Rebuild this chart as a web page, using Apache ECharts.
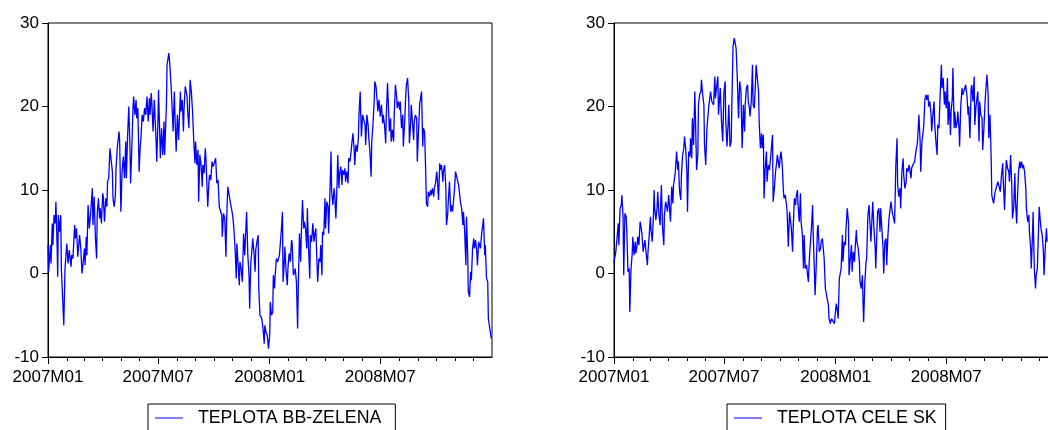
<!DOCTYPE html>
<html>
<head>
<meta charset="utf-8">
<script src="https://cdn.jsdelivr.net/npm/echarts@6/dist/echarts.min.js"></script>
<style>
html,body{margin:0;padding:0;background:#fff;overflow:hidden}
#chart{width:1048px;height:430px}
</style>
</head>
<body>
<div id="chart"></div>
<script>
// x positions are day indexes counted from 2007-01-01 (day 0) to 2009-01-01 (day 731)
const monthStartDays = [0,31,59,90,120,151,181,212,243,273,304,334,365,396,425,456,486,517,547,578,609,639,670,700];
const majorTickDays = [0,181,365,547];
const majorTickLabels = ['2007M01','2007M07','2008M01','2008M07'];
const yTickValues = [-10,0,10,20,30];

// TEPLOTA BB-ZELENA (left panel)
const bbDays = [
0,1,4,5,7,8,10,12,13,15,16,17,19,21,22,26,28,31,33,35,38,39,41,44,45,47,49,50,52,54,56,58,60,61,63,64,66,68,70,73,74,76,78,80,81,83,85,86,88,90,91,93,95,97,98,100,102,104,106,107,109,111,112,114,117,118,120,122,124,126,128,129,131,133,135,136,138,140,141,143,145,146,148,150,152,153,155,157,159,161,163,165,167,168,170,171,173,
175,178,179,181,182,185,187,189,191,192,195,196,199,201,203,206,208,209,211,213,215,218,219,221,223,224,226,229,230,232,234,236,238,240,242,243,245,247,248,250,252,254,255,257,259,260,263,265,266,268,270,272,274,276,278,280,282,284,286,287,289,291,293,294,296,298,300,302,304,306,308,310,311,313,315,316,318,320,322,324,326,327,329,331,332,334,336,337,339,341,342,344,346,347,349,
352,354,356,357,359,361,363,365,366,368,370,371,373,374,376,378,379,381,383,384,386,387,389,390,392,394,395,397,399,401,402,404,406,407,409,411,412,414,416,417,419,421,422,424,426,427,429,431,432,434,436,438,439,441,443,444,446,448,449,451,452,454,456,457,459,461,462,464,466,467,469,471,472,474,476,477,479,480,482,484,485,487,489,490,492,494,495,497,499,500,502,504,505,507,509,511,512,514,515,516,518,520,522,523,525,527,528,530,532,533,535,537,538,540,542,543,545,
547,549,551,552,554,556,557,559,561,562,564,565,567,569,570,572,574,575,577,579,580,582,584,585,587,589,590,592,594,595,597,598,600,602,603,605,607,608,610,612,613,615,617,618,620,622,623,625,626,628,630,631,633,635,636,638,640,641,643,645,646,648,650,651,653,655,656,658,659,661,663,664,666,668,669,671,673,674,676,678,679,681,683,684,686,688,689,691,692,694,696,697,699,701,702,704,706,707,709,711,712,714,716,717,719,720,722,724,725,727,729,730
];
const bbTemp = [
3.4,0.2,3.4,1.2,6.0,3.4,7.0,6.0,8.6,3.4,-0.4,7.0,5.0,7.0,0.6,-6.2,0.6,3.6,1.2,2.8,0.8,2.2,1.8,5.8,4.2,5.4,2.0,2.2,4.6,3.0,0.0,1.4,3.0,1.0,4.4,2.2,8.2,5.4,7.0,10.2,5.8,9.2,4.4,1.8,7.0,9.0,6.6,7.8,6.0,9.6,9.2,6.2,9.0,8.0,11.0,11.4,15.0,15.2,12.2,9.0,8.0,9.4,12.6,15.0,17.0,15.8,7.4,12.2,14.0,11.4,15.8,11.4,16.4,20.0,15.0,10.8,15.0,20.0,21.2,19.0,20.8,18.6,19.8,12.2,15.4,16.2,19.0,18.2,19.8,19.0,21.2,18.2,21.0,19.0,21.6,20.4,17.0,
20.8,15.8,13.4,18.2,22.0,13.8,17.4,14.2,18.2,14.2,20.2,25.0,26.4,24.6,22.0,17.0,21.8,19.0,14.6,19.0,16.0,21.8,19.4,20.8,17.0,19.8,22.4,21.2,19.4,17.4,23.2,21.8,19.4,15.8,13.2,15.8,13.0,14.8,8.6,14.2,13.0,10.4,13.0,12.0,15.0,13.8,8.0,11.0,11.8,11.2,13.4,12.8,13.0,13.8,10.8,11.2,8.0,7.8,7.0,4.4,7.2,6.6,2.0,6.2,10.4,10.2,8.6,8.8,7.0,5.4,3.0,-0.6,3.6,3.4,-1.4,1.4,0.6,-1.0,4.8,2.2,5.8,7.4,2.2,-0.2,-4.2,1.4,3.0,4.2,2.6,0.2,2.8,3.8,4.6,-1.8,-5.0,
-5.4,-6.6,-8.4,-6.2,-7.0,-7.4,-9.0,-7.4,-3.4,-5.0,-4.6,-0.2,-1.8,-0.2,1.8,1.4,1.2,2.2,2.0,5.0,7.4,-1.0,1.4,3.2,0.2,-1.4,0.6,2.4,1.4,4.0,3.6,-0.2,0.2,0.6,-1.0,-6.6,-1.8,4.8,1.4,4.6,8.8,5.4,6.2,5.4,3.0,7.8,3.0,-0.6,4.6,3.8,6.0,3.8,4.6,5.4,1.0,-1.0,1.8,1.4,3.4,-0.2,5.0,4.6,9.0,5.4,8.6,8.0,4.8,9.4,14.6,9.8,8.2,10.2,9.4,6.6,11.0,14.2,10.2,11.8,12.8,10.6,12.4,11.8,12.6,11.0,12.2,10.8,13.8,13.4,14.6,15.4,16.8,15.0,13.0,15.4,14.6,16.2,19.0,21.8,19.0,16.4,19.0,19.2,17.8,15.4,19.0,17.8,16.4,14.6,11.6,15.8,17.8,20.6,23.0,22.4,20.6,19.4,20.8,
18.8,20.2,18.0,19.0,17.8,15.6,19.0,22.8,19.0,17.0,18.6,15.8,17.2,15.8,19.0,22.6,21.2,19.8,20.6,19.6,20.6,17.4,19.0,15.2,17.8,21.4,22.6,23.4,20.6,15.6,17.8,20.2,18.2,16.0,18.2,19.0,18.6,13.4,17.0,20.4,20.8,21.8,15.2,17.4,17.0,11.8,8.4,8.0,9.8,9.2,10.0,9.4,10.2,9.2,10.2,10.8,12.2,11.4,8.8,13.2,12.4,13.0,11.0,12.2,13.0,10.2,5.8,7.0,8.6,11.0,7.4,8.2,7.4,9.0,9.8,12.2,12.4,12.2,10.6,10.4,8.6,7.8,5.8,7.4,5.0,1.0,6.8,2.2,-2.2,-2.8,0.2,-0.8,3.0,4.2,3.0,4.0,2.6,1.0,3.8,4.0,3.0,4.8,5.0,6.6,2.2,3.4,-0.6,-1.0,-5.4,-5.6,-7.4,-7.8
];

// TEPLOTA CELE SK (right panel)
const skDays = [
0,2,3,5,7,8,10,12,13,15,16,18,20,21,23,25,26,28,30,31,33,35,36,38,39,41,43,44,46,48,49,51,53,55,56,58,60,61,63,65,66,67,69,71,72,74,76,77,78,80,82,83,85,87,88,90,92,93,95,97,98,100,101,103,105,106,108,110,111,113,115,116,118,120,121,123,125,126,128,129,131,133,134,136,138,139,141,143,144,146,148,149,151,153,154,156,157,159,161,162,164,166,167,169,171,172,
175,177,179,181,183,184,186,188,189,191,193,194,196,198,199,201,203,205,207,209,211,213,215,216,218,220,221,223,224,226,228,229,231,233,234,236,238,239,241,243,244,246,247,249,251,252,254,256,257,259,261,262,264,266,267,269,271,272,274,275,277,279,280,282,284,285,287,289,290,292,294,295,297,299,300,302,303,305,307,308,310,312,313,315,317,318,320,322,323,325,327,328,330,331,333,335,336,338,340,341,343,345,346,348,350,351,353,
354,356,358,359,361,363,364,366,368,369,371,372,374,376,377,379,381,382,384,386,387,389,391,392,394,396,397,399,400,402,404,405,407,409,410,411,413,415,416,418,420,421,423,425,426,428,430,431,433,434,436,438,439,441,443,444,446,448,449,451,453,454,456,458,459,461,462,464,466,467,469,471,472,474,476,477,479,481,482,484,486,487,489,490,492,494,495,497,499,500,502,504,505,507,509,510,512,514,515,517,518,520,522,523,525,527,528,530,532,533,535,
537,539,540,542,544,545,547,549,550,552,554,555,557,558,560,561,563,565,566,568,569,571,573,574,576,578,579,581,583,584,586,588,589,591,593,594,596,597,599,601,602,604,606,607,609,611,612,614,616,617,619,621,622,623,625,627,628,630,632,633,635,636,638,640,641,643,645,646,648,650,651,653,655,656,658,660,661,663,664,666,668,669,671,673,674,676,678,679,681,683,684,686,687,689,690,692,694,695,697,699,700,702,703,705,707,708,710,712,713
];
const skTemp = [
1.4,1.2,2.6,2.4,6.0,3.4,7.8,8.2,9.4,6.6,-0.2,7.2,6.8,5.4,0.2,0.6,-4.6,0.6,2.4,4.4,2.2,3.8,2.4,3.4,4.4,3.4,6.2,5.8,4.8,2.6,2.8,4.0,2.4,1.0,2.6,4.6,6.8,5.2,3.8,7.0,10.0,7.8,6.4,8.0,9.8,7.0,5.8,8.6,10.6,5.4,3.4,7.0,8.6,7.8,7.4,9.4,9.2,6.2,10.4,8.4,10.6,11.6,12.2,14.6,12.4,13.4,9.8,8.8,11.8,14.2,15.0,16.4,15.0,12.2,7.4,14.6,14.0,16.2,13.8,18.6,15.4,21.8,19.0,12.4,14.2,20.2,21.4,21.8,23.2,21.4,20.2,15.4,13.0,17.4,17.4,20.0,20.2,21.8,20.6,20.4,20.2,23.6,21.0,22.4,23.6,19.0,
22.2,18.2,15.8,21.8,23.0,18.2,15.2,18.2,20.2,15.2,15.8,20.2,27.2,28.2,28.0,27.0,23.4,18.6,23.0,21.8,15.0,20.2,17.0,20.2,22.2,22.6,20.6,19.8,18.8,20.6,25.0,20.2,19.8,23.0,25.0,23.4,21.8,18.2,15.0,16.8,15.0,16.6,9.0,12.6,14.6,11.0,13.0,12.4,12.6,12.2,16.6,8.6,10.2,12.2,12.8,14.2,14.4,12.6,14.2,14.6,13.0,9.8,9.0,9.4,8.2,7.4,3.2,7.4,7.6,5.4,2.6,5.4,9.0,8.2,9.2,10.0,8.2,6.2,9.6,6.2,4.8,0.6,4.6,0.6,1.0,1.0,-1.0,2.2,3.2,5.4,8.2,4.6,0.2,-2.6,1.0,5.4,5.8,2.6,3.0,3.8,4.2,4.2,1.8,-1.8,-2.6,-3.0,-3.8,
-5.4,-6.0,-5.4,-5.6,-5.4,-6.0,-5.0,-3.6,-4.6,-5.4,-0.6,-0.8,0.6,4.6,1.4,3.8,3.4,5.4,7.8,6.2,-0.2,1.8,3.4,0.2,2.6,1.4,3.0,5.2,3.8,3.0,1.4,-1.0,-1.8,-0.2,-3.4,-5.8,-1.0,1.4,1.8,7.0,8.2,6.6,3.8,7.0,8.6,5.4,3.0,0.6,5.4,7.4,7.8,5.0,7.8,5.4,3.0,0.0,3.8,4.2,1.0,4.6,6.8,7.4,8.6,7.4,7.6,7.6,6.0,13.0,16.2,10.6,9.2,10.2,7.8,12.2,13.8,11.8,10.2,11.0,12.6,12.2,13.0,12.8,11.4,12.6,13.0,13.2,13.4,14.6,15.4,16.2,19.0,15.8,12.2,15.8,17.0,17.8,21.0,21.4,20.8,21.4,20.0,20.6,19.0,17.0,19.0,20.6,17.8,15.8,14.2,17.8,17.4,
21.4,25.0,22.2,23.4,20.2,21.8,19.8,23.4,17.8,20.6,16.6,19.4,21.0,24.6,17.4,19.4,17.4,18.2,19.4,17.4,15.2,20.2,22.2,21.4,21.8,21.6,22.6,21.4,19.0,20.0,16.2,22.2,22.6,20.6,23.6,17.8,20.0,20.6,21.8,15.8,20.6,19.0,18.6,14.8,17.4,20.6,21.8,23.8,21.4,16.2,19.0,13.8,9.4,9.0,8.4,9.6,9.4,9.8,11.0,10.8,11.0,9.8,11.8,13.2,11.0,7.6,12.2,13.6,12.6,12.2,11.0,14.2,10.2,6.6,7.8,12.0,8.6,6.0,8.6,12.2,13.4,12.6,13.4,12.6,13.0,12.2,10.2,7.8,6.2,7.0,5.0,3.0,0.6,4.6,7.4,0.6,-1.8,-0.2,0.6,5.4,8.0,6.2,5.4,4.6,2.6,-0.2,3.0,5.4,3.8
];

const seriesNames = ['TEPLOTA BB-ZELENA', 'TEPLOTA CELE SK'];

const FONT = "'Liberation Sans', Arial, Helvetica, sans-serif";

function pairs(days, vals) {
  const n = Math.min(days.length, vals.length);
  const out = [];
  for (let i = 0; i < n; i++) out.push([days[i], vals[i]]);
  return out;
}

function xAxesFor(gridIndex) {
  return [
    {
      type: 'value', gridIndex: gridIndex, min: 0, max: 731, position: 'bottom',
      axisLine: { show: true, onZero: false, lineStyle: { color: '#000', width: 1 } },
      axisTick: { show: true, length: 7, customValues: majorTickDays, lineStyle: { color: '#000', width: 1 } },
      axisLabel: {
        show: true, customValues: majorTickDays, color: '#000', fontSize: 17, fontFamily: FONT, margin: 12,
        formatter: function (v) { const i = majorTickDays.indexOf(Math.round(v)); return i >= 0 ? majorTickLabels[i] : ''; }
      },
      splitLine: { show: false }
    },
    {
      type: 'value', gridIndex: gridIndex, min: 0, max: 731, position: 'bottom',
      axisLine: { show: false, onZero: false },
      axisTick: { show: true, length: 4, customValues: monthStartDays, lineStyle: { color: '#000', width: 1 } },
      axisLabel: { show: false },
      splitLine: { show: false }
    }
  ];
}

function yAxisFor(gridIndex) {
  return {
    type: 'value', gridIndex: gridIndex, min: yTickValues[0], max: yTickValues[yTickValues.length - 1], interval: 10, position: 'left',
    axisLine: { show: true, onZero: false, lineStyle: { color: '#000', width: 1 } },
    axisTick: { show: true, length: 6, lineStyle: { color: '#000', width: 1 } },
    axisLabel: { color: '#000', fontSize: 17, fontFamily: FONT, margin: 9 },
    splitLine: { show: false }
  };
}

function legendFor(name, left, padRight) {
  return {
    data: [name], left: left, top: 404, orient: 'horizontal',
    icon: 'rect', itemWidth: 28, itemHeight: 1,
    padding: [5, padRight, 12, 7],
    borderColor: '#000', borderWidth: 1, borderRadius: 0, backgroundColor: '#fff',
    selectedMode: false,
    formatter: function (n) { return '  ' + n; },
    textStyle: { color: '#000', fontSize: 17.8, fontFamily: FONT },
    itemStyle: { color: '#0000ff' }
  };
}

const chart = echarts.init(document.getElementById('chart'), null, { renderer: 'canvas' });
chart.setOption({
  animation: false,
  backgroundColor: '#fff',
  textStyle: { fontFamily: FONT },
  grid: [
    { left: 48, top: 23, width: 444, height: 334, show: true, borderColor: '#000', borderWidth: 1, backgroundColor: 'transparent', containLabel: false, outerBoundsMode: 'none' },
    { left: 614, top: 23, width: 444, height: 334, show: true, borderColor: '#000', borderWidth: 1, backgroundColor: 'transparent', containLabel: false, outerBoundsMode: 'none' }
  ],
  xAxis: xAxesFor(0).concat(xAxesFor(1)),
  yAxis: [yAxisFor(0), yAxisFor(1)],
  legend: [legendFor(seriesNames[0], 148, 14), legendFor(seriesNames[1], 727, 9)],
  series: [
    {
      name: seriesNames[0], type: 'line', xAxisIndex: 0, yAxisIndex: 0,
      data: pairs(bbDays, bbTemp), symbol: 'none', showSymbol: false,
      lineStyle: { color: '#0000ff', width: 1.3 }, itemStyle: { color: '#0000ff' }
    },
    {
      name: seriesNames[1], type: 'line', xAxisIndex: 2, yAxisIndex: 1,
      data: pairs(skDays, skTemp), symbol: 'none', showSymbol: false,
      lineStyle: { color: '#0000ff', width: 1.3 }, itemStyle: { color: '#0000ff' }
    }
  ]
});
</script>
</body>
</html>
